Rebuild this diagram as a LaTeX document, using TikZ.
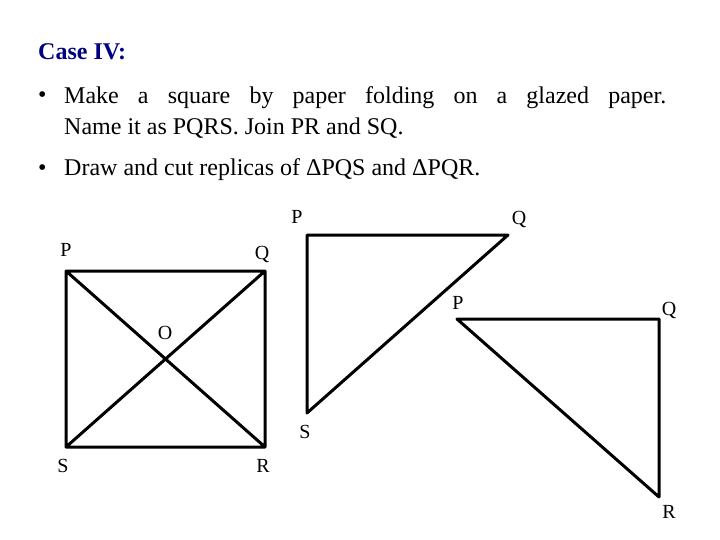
\documentclass[tikz,border=0pt]{standalone}
\usepackage{fontspec}
\setmainfont{Liberation Serif}
\definecolor{navy}{RGB}{0,0,128}
\begin{document}
\begin{tikzpicture}[x=1pt,y=-1pt,
  txt/.style={inner sep=0pt,anchor=base west,font=\fontsize{24}{31}\selectfont},
  lbl/.style={inner sep=0pt,anchor=base,font=\fontsize{20}{24}\selectfont},
  edge/.style={line width=3pt,line cap=round,line join=round}]
\useasboundingbox (0,0) rectangle (720,540);
\node[txt,text=navy,font=\fontsize{24}{31}\selectfont\bfseries] (title) at (38,60) {Case IV:};
\node[txt] (b1) at (38,103) {•};
\node[txt,anchor=north west,text width=602pt,align=justify] (t1) at (64,86.5) {Make a square by paper folding on a glazed paper.\linebreak Name it as PQRS. Join PR and SQ.};
\node[txt] (b2) at (38,176) {•};
\node[txt] (t2) at (64,176) {Draw and cut replicas of ΔPQS and ΔPQR.};
% square
\coordinate (P) at (66,271); \coordinate (Q) at (265,271);
\coordinate (R) at (265,447); \coordinate (S) at (66,447);
\draw[edge] (P)--(Q)--(R)--(S)--cycle (P)--(R) (Q)--(S);
\node[lbl] (lP) at (66,256) {P}; \node[lbl] (lQ) at (262,259) {Q};
\node[lbl] (lO) at (165,339) {O};
\node[lbl] (lS) at (63,472) {S}; \node[lbl] (lR) at (263,472) {R};
% triangle PQS
\coordinate (P1) at (307,235); \coordinate (Q1) at (508,235); \coordinate (S1) at (307,413);
\draw[edge] (P1)--(Q1)--(S1)--cycle;
\node[lbl] (lP1) at (297,223) {P}; \node[lbl] (lQ1) at (519,225) {Q}; \node[lbl] (lS1) at (305,438) {S};
% triangle PQR
\coordinate (P2) at (457,319); \coordinate (Q2) at (659,319); \coordinate (R2) at (659,497);
\draw[edge] (P2)--(Q2)--(R2)--cycle;
\node[lbl] (lP2) at (458,309) {P}; \node[lbl] (lQ2) at (669,315) {Q}; \node[lbl] (lR2) at (669,518) {R};
\end{tikzpicture}
\end{document}
